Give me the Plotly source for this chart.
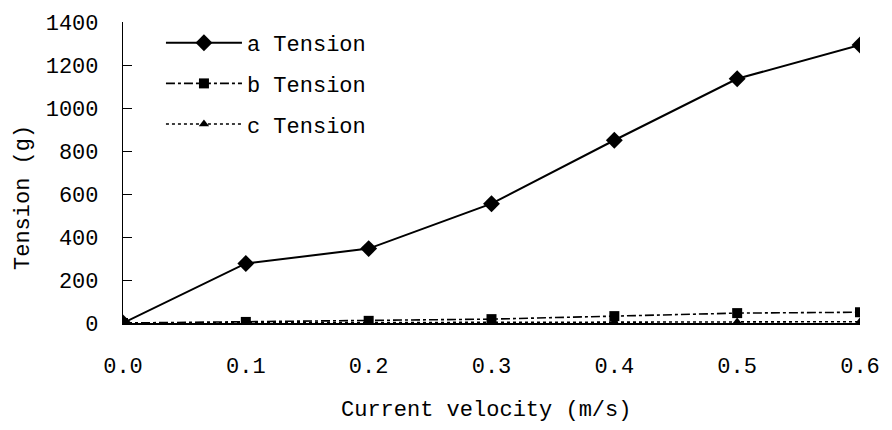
import plotly.graph_objects as go

velocity = [0.0, 0.1, 0.2, 0.3, 0.4, 0.5, 0.6]
tension_a = [0, 277, 346, 555, 850, 1136, 1293]
tension_b = [0, 5, 10, 18, 32, 46, 50]
tension_c = [0, 1, 2, 3, 4, 5, 6]
x_ticks = [0.0, 0.1, 0.2, 0.3, 0.4, 0.5, 0.6]
x_tick_text = ["0.0", "0.1", "0.2", "0.3", "0.4", "0.5", "0.6"]
y_ticks = [0, 200, 400, 600, 800, 1000, 1200, 1400]

FONT = "Liberation Mono"

fig = go.Figure()
fig.add_trace(go.Scatter(x=velocity, y=tension_c, name="c Tension", legendgroup="c",
                         legendrank=3, mode="lines+markers",
                         line=dict(color="black", width=1.6, dash="dot"),
                         marker=dict(symbol="triangle-up", size=9, color="black")))
fig.add_trace(go.Scatter(x=velocity, y=tension_b, name="b Tension", legendgroup="b",
                         legendrank=2, mode="lines+markers",
                         line=dict(color="black", width=1.6, dash="dashdot"),
                         marker=dict(symbol="square", size=10, color="black")))
fig.add_trace(go.Scatter(x=velocity, y=tension_a, name="a Tension", legendgroup="a",
                         legendrank=1, mode="lines+markers",
                         line=dict(color="black", width=2),
                         marker=dict(symbol="diamond", size=13, color="black")))

fig.update_layout(
    width=892, height=430,
    margin=dict(l=123, r=23, t=20, b=107),
    plot_bgcolor="white", paper_bgcolor="white",
    font=dict(family=FONT, size=22, color="black"),
    showlegend=True,
    legend=dict(x=0.0515, y=1.0, xanchor="left", yanchor="top",
                traceorder="grouped", tracegroupgap=9,
                itemwidth=76, bgcolor="rgba(0,0,0,0)",
                font=dict(family=FONT, size=22)),
    xaxis=dict(range=[0, 0.6], tickvals=x_ticks, ticktext=x_tick_text,
               showgrid=False, zeroline=False, showline=True, linecolor="black",
               linewidth=1.5, ticks="", ticklabelstandoff=22,
               tickfont=dict(family=FONT, size=22)),
    yaxis=dict(range=[0, 1400], tickvals=y_ticks, showgrid=False, zeroline=False,
               showline=True, linecolor="black", linewidth=1.2,
               ticks="inside", ticklen=9, tickcolor="black",
               ticklabelstandoff=19, tickfont=dict(family=FONT, size=22)),
    annotations=[
        dict(text="Current velocity (m/s)", x=0.493, y=-0.29, xref="paper", yref="paper",
             showarrow=False, xanchor="center", yanchor="middle",
             font=dict(family=FONT, size=22)),
        dict(text="Tension (g)", x=-0.134, y=0.416, xref="paper", yref="paper",
             showarrow=False, xanchor="center", yanchor="middle", textangle=-90,
             font=dict(family=FONT, size=22)),
    ],
)

fig.write_html("out.html", config={"displayModeBar": False},
               post_script="document.body.style.margin='0';document.body.style.overflow='hidden';")
